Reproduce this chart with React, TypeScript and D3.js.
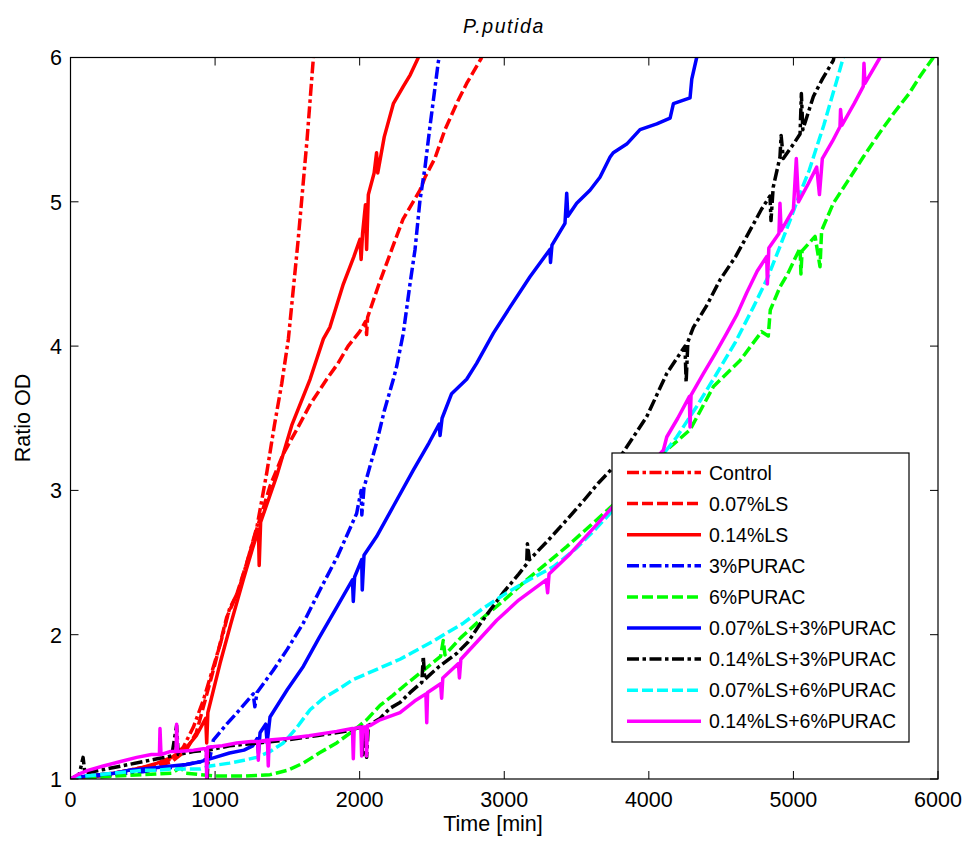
import React from "react";
import * as d3 from "d3";

const xTicks = [0, 1000, 2000, 3000, 4000, 5000, 6000];
const yTicks = [1, 2, 3, 4, 5, 6];

const seriesNames = [
  "Control",
  "0.07%LS",
  "0.14%LS",
  "3%PURAC",
  "6%PURAC",
  "0.07%LS+3%PURAC",
  "0.14%LS+3%PURAC",
  "0.07%LS+6%PURAC",
  "0.14%LS+6%PURAC",
];

const control: [number, number][] = [[0,1.0],[100,1.02],[200,1.03],[300,1.04],[400,1.06],[500,1.08],[600,1.1],[700,1.14],[780,1.22],[850,1.36],[920,1.55],[980,1.75],[1040,1.95],[1100,2.18],[1160,2.3],[1220,2.5],[1290,2.75],[1357,3.12],[1410,3.45],[1461,3.74],[1507,4.05],[1574,4.73],[1636,5.43],[1680,6.0]];

const ls007: [number, number][] = [[0,1.0],[100,1.01],[200,1.02],[300,1.03],[400,1.05],[500,1.07],[600,1.09],[700,1.12],[800,1.2],[870,1.32],[919,1.5],[1000,1.8],[1080,2.12],[1150,2.28],[1220,2.5],[1288,2.73],[1380,3.03],[1470,3.25],[1564,3.42],[1660,3.6],[1772,3.77],[1850,3.88],[1920,4.0],[2000,4.1],[2040,4.17],[2048,4.08],[2055,4.2],[2130,4.42],[2222,4.67],[2300,4.88],[2417,5.08],[2452,5.17],[2520,5.3],[2590,5.5],[2680,5.7],[2740,5.82],[2844,6.0]];

const ls014: [number, number][] = [[0,1.0],[100,1.01],[200,1.02],[300,1.04],[400,1.06],[500,1.08],[600,1.11],[700,1.15],[803,1.22],[870,1.3],[935,1.42],[942,1.25],[950,1.46],[1034,1.8],[1110,2.08],[1195,2.38],[1260,2.6],[1300,2.73],[1305,2.48],[1315,2.78],[1426,3.1],[1530,3.45],[1657,3.77],[1749,4.05],[1794,4.13],[1887,4.43],[1960,4.62],[2002,4.74],[2010,4.6],[2020,4.78],[2040,4.98],[2048,4.67],[2060,5.05],[2100,5.2],[2117,5.34],[2125,5.2],[2170,5.45],[2233,5.68],[2302,5.8],[2350,5.88],[2406,6.0]];

const purac3: [number, number][] = [[0,1.0],[150,1.02],[300,1.03],[500,1.05],[700,1.08],[900,1.12],[965,1.15],[988,1.27],[1080,1.38],[1170,1.48],[1264,1.59],[1275,1.5],[1290,1.6],[1400,1.75],[1500,1.9],[1610,2.08],[1720,2.3],[1850,2.55],[1979,2.84],[2010,3.0],[2015,2.83],[2030,3.02],[2117,3.33],[2170,3.55],[2233,3.77],[2256,3.86],[2302,4.09],[2348,4.43],[2383,4.67],[2417,5.01],[2452,5.24],[2486,5.52],[2544,5.97],[2550,6.0]];

const purac6: [number, number][] = [[0,1.0],[150,1.01],[300,1.02],[500,1.03],[700,1.04],[760,1.08],[800,1.04],[900,1.03],[1000,1.02],[1200,1.02],[1380,1.03],[1500,1.06],[1610,1.11],[1720,1.18],[1841,1.25],[1950,1.33],[2048,1.41],[2141,1.51],[2230,1.58],[2325,1.66],[2450,1.76],[2560,1.85],[2578,1.96],[2590,1.86],[2700,1.98],[2832,2.1],[3000,2.24],[3155,2.38],[3300,2.5],[3432,2.61],[3600,2.76],[3754,2.9],[3900,3.06],[4000,3.18],[4124,3.28],[4285,3.42],[4447,3.72],[4631,3.9],[4780,4.1],[4826,4.07],[4840,4.25],[4907,4.41],[4960,4.5],[5046,4.68],[5052,4.5],[5060,4.66],[5150,4.76],[5184,4.55],[5195,4.8],[5276,4.99],[5380,5.15],[5483,5.31],[5591,5.47],[5691,5.61],[5800,5.75],[5876,5.87],[5968,6.0]];

const ls007p3: [number, number][] = [[0,1.0],[100,1.02],[200,1.03],[300,1.04],[400,1.06],[500,1.07],[600,1.08],[700,1.09],[800,1.1],[900,1.12],[1000,1.15],[1100,1.18],[1200,1.2],[1260,1.23],[1290,1.28],[1300,1.18],[1311,1.32],[1350,1.38],[1360,1.25],[1380,1.43],[1500,1.62],[1610,1.78],[1720,1.98],[1841,2.19],[1950,2.38],[1956,2.23],[1965,2.4],[2014,2.52],[2018,2.31],[2030,2.55],[2117,2.68],[2233,2.89],[2371,3.14],[2480,3.33],[2550,3.46],[2556,3.38],[2570,3.5],[2636,3.67],[2740,3.77],[2809,3.88],[2925,4.09],[3040,4.27],[3178,4.48],[3316,4.67],[3320,4.58],[3330,4.7],[3420,4.85],[3432,5.06],[3440,4.9],[3501,4.99],[3593,5.08],[3662,5.17],[3732,5.31],[3754,5.34],[3847,5.4],[3939,5.5],[4055,5.54],[4147,5.58],[4170,5.68],[4285,5.72],[4297,5.85],[4331,6.0]];

const ls014p3: [number, number][] = [[0,1.0],[60,1.03],[87,1.15],[100,1.04],[200,1.06],[300,1.08],[400,1.1],[500,1.12],[600,1.14],[700,1.16],[734,1.37],[745,1.17],[850,1.19],[940,1.2],[945,1.0],[955,1.2],[1100,1.23],[1300,1.25],[1500,1.27],[1700,1.3],[1900,1.33],[2014,1.36],[2020,1.15],[2030,1.36],[2048,1.15],[2060,1.37],[2141,1.42],[2210,1.49],[2279,1.53],[2350,1.6],[2430,1.67],[2440,1.85],[2450,1.69],[2550,1.78],[2671,1.87],[2750,1.95],[2830,2.07],[2902,2.17],[3000,2.3],[3100,2.42],[3155,2.49],[3160,2.63],[3175,2.52],[3300,2.65],[3409,2.77],[3550,2.93],[3650,3.05],[3754,3.16],[3893,3.37],[3985,3.51],[4124,3.81],[4250,4.0],[4258,3.75],[4270,4.03],[4308,4.13],[4400,4.28],[4493,4.46],[4600,4.62],[4677,4.76],[4780,4.95],[4838,5.04],[4845,4.87],[4860,5.1],[4907,5.31],[4915,5.46],[4930,5.3],[5000,5.4],[5046,5.47],[5055,5.75],[5065,5.5],[5138,5.73],[5200,5.85],[5276,5.98],[5280,6.0]];

const ls007p6: [number, number][] = [[0,1.0],[100,1.02],[200,1.03],[300,1.04],[400,1.05],[500,1.06],[600,1.06],[700,1.07],[800,1.07],[900,1.07],[965,1.09],[1100,1.11],[1200,1.13],[1288,1.15],[1380,1.19],[1472,1.25],[1560,1.35],[1657,1.48],[1750,1.56],[1850,1.62],[1956,1.69],[2050,1.73],[2141,1.77],[2279,1.83],[2371,1.88],[2500,1.95],[2600,2.01],[2717,2.08],[2850,2.18],[3017,2.29],[3170,2.38],[3339,2.47],[3500,2.6],[3620,2.72],[3731,2.84],[3850,2.98],[3950,3.08],[4060,3.2],[4193,3.37],[4330,3.58],[4470,3.81],[4600,4.03],[4723,4.27],[4820,4.47],[4907,4.69],[4980,4.88],[5046,5.06],[5110,5.22],[5161,5.38],[5210,5.53],[5253,5.68],[5300,5.84],[5345,6.0]];

const ls014p6: [number, number][] = [[0,1.0],[50,1.03],[120,1.06],[227,1.09],[340,1.12],[458,1.15],[560,1.17],[615,1.17],[619,1.35],[626,1.17],[688,1.19],[730,1.19],[734,1.38],[740,1.19],[850,1.2],[919,1.21],[938,1.21],[942,1.0],[948,1.22],[1050,1.23],[1149,1.25],[1250,1.26],[1295,1.26],[1299,1.13],[1305,1.26],[1362,1.27],[1368,1.09],[1374,1.27],[1495,1.28],[1650,1.3],[1841,1.33],[1950,1.35],[1956,1.14],[1962,1.35],[2008,1.36],[2014,1.16],[2020,1.36],[2042,1.36],[2048,1.16],[2054,1.37],[2071,1.37],[2141,1.41],[2279,1.46],[2380,1.54],[2458,1.59],[2464,1.39],[2470,1.6],[2560,1.66],[2567,1.56],[2575,1.7],[2683,1.8],[2690,1.7],[2700,1.83],[2820,1.96],[2948,2.1],[3100,2.24],[3290,2.38],[3300,2.29],[3310,2.42],[3455,2.56],[3600,2.72],[3754,2.89],[3920,3.07],[4101,3.28],[4124,3.37],[4200,3.5],[4280,3.65],[4285,3.44],[4292,3.66],[4377,3.81],[4460,3.95],[4539,4.09],[4610,4.22],[4677,4.37],[4750,4.52],[4815,4.62],[4820,4.43],[4830,4.68],[4900,4.78],[4907,4.99],[4915,4.8],[5000,4.95],[5020,5.3],[5035,5.0],[5100,5.12],[5161,5.24],[5180,5.05],[5200,5.3],[5270,5.42],[5322,5.52],[5326,5.64],[5335,5.53],[5420,5.68],[5483,5.8],[5488,5.96],[5495,5.82],[5599,6.0]];

const seriesData = [control, ls007, ls014, purac3, purac6, ls007p3, ls014p3, ls007p6, ls014p6];
const seriesColors = ["#ff0000", "#ff0000", "#ff0000", "#0000ff", "#00ff00", "#0000ff", "#000000", "#00ffff", "#ff00ff"];
const seriesStyles = ["dashdot", "dash", "solid", "dashdot", "dash", "solid", "dashdot", "dash", "solid"];

const DASH: Record<string, string | undefined> = {
  solid: undefined,
  dash: "11,4",
  dashdot: "12,3.5,3.5,3.5",
};

const W = 967;
const H = 842;
const L = 70.5, R = 938, T = 57.5, B = 779;
const FONT = "'Liberation Sans', Arial, Helvetica, sans-serif";

export default function App() {
  const x = d3.scaleLinear().domain([0, 6000]).range([L, R]);
  const y = d3.scaleLinear().domain([1, 6]).range([B, T]);
  const line = d3.line<[number, number]>().x((d) => x(d[0])).y((d) => y(d[1]));

  const legX = 612, legY = 453, legW = 297, legH = 289;
  const rowH = 31.1;

  return (
    <svg width={W} height={H} style={{ position: "absolute", left: 0, top: 0, background: "#fff" }} fontFamily={FONT}>
      <rect x={0} y={0} width={W} height={H} fill="#fff" />
      <defs>
        <clipPath id="plotclip">
          <rect x={L} y={T} width={R - L} height={B - T} />
        </clipPath>
      </defs>
      <text x={504} y={33} textAnchor="middle" fontSize={19.5} fontStyle="italic" letterSpacing={1.6}>P.putida</text>
      <g clipPath="url(#plotclip)">
        {seriesData.map((d, i) => (
          <path key={i} d={line(d) || ""} fill="none" stroke={seriesColors[i]} strokeWidth={3.5}
            strokeDasharray={DASH[seriesStyles[i]]} strokeLinejoin="round" />
        ))}
      </g>
      <rect x={L} y={T} width={R - L} height={B - T} fill="none" stroke="#000" strokeWidth={1.2} />
      {xTicks.map((t) => (
        <g key={"x" + t}>
          <line x1={x(t)} x2={x(t)} y1={B} y2={B - 8} stroke="#000" strokeWidth={1} />
          <line x1={x(t)} x2={x(t)} y1={T} y2={T + 8} stroke="#000" strokeWidth={1} />
          <text x={x(t)} y={806.5} textAnchor="middle" fontSize={21.5}>{t}</text>
        </g>
      ))}
      {yTicks.map((t) => (
        <g key={"y" + t}>
          <line x1={L} x2={L + 8} y1={y(t)} y2={y(t)} stroke="#000" strokeWidth={1} />
          <line x1={R} x2={R - 8} y1={y(t)} y2={y(t)} stroke="#000" strokeWidth={1} />
          <text x={62} y={y(t) + 7.8} textAnchor="end" fontSize={21.5}>{t}</text>
        </g>
      ))}
      <text x={493} y={831} textAnchor="middle" fontSize={21.5}>Time [min]</text>
      <text transform={`translate(30,418) rotate(-90)`} textAnchor="middle" fontSize={21.5}>Ratio OD</text>
      <g>
        <rect x={legX} y={legY} width={legW} height={legH} fill="#fff" stroke="#000" strokeWidth={1.2} />
        {seriesNames.map((n, i) => {
          const cy = legY + 19.5 + i * rowH;
          return (
            <g key={n}>
              <line x1={627} x2={701} y1={cy} y2={cy} stroke={seriesColors[i]} strokeWidth={3.5}
                strokeDasharray={DASH[seriesStyles[i]]} />
              <text x={709} y={cy + 7} fontSize={19.5}>{n}</text>
            </g>
          );
        })}
      </g>
    </svg>
  );
}
